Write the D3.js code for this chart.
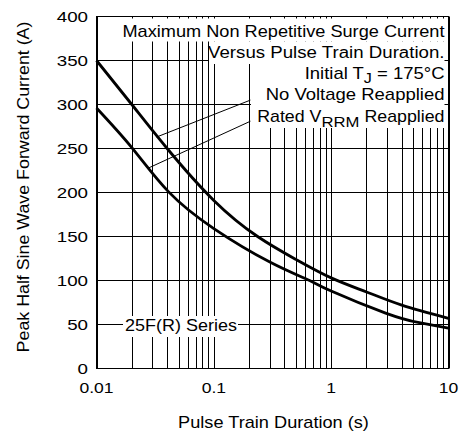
<!DOCTYPE html>
<html>
<head>
<meta charset="utf-8">
<script src="https://cdn.jsdelivr.net/npm/d3@7"></script>
<style>
  html, body { margin: 0; padding: 0; background: #fff; }
  svg { display: block; }
  text { font-family: "Liberation Sans", Arial, sans-serif; fill: #000; }
</style>
</head>
<body>
<svg id="chart" width="464" height="432"></svg>
<script>
// ---------------- data ----------------
const noVoltageT = [0.01, 0.02, 0.04, 0.1, 0.236, 0.5, 1, 2, 4, 10];
const noVoltageI = [350, 300, 250, 191, 150, 124, 103, 87, 72, 57];
const ratedT     = [0.01, 0.02, 0.041, 0.1, 0.3, 0.655, 1, 2.91, 5.64, 10];
const ratedI     = [296, 251, 201, 159, 121, 100, 88, 63, 52, 46];
const xTickValues = [0.01, 0.1, 1, 10];
const xTickLabels = ["0.01", "0.1", "1", "10"];
const yTickValues = [0, 50, 100, 150, 200, 250, 300, 350, 400];
const yTickLabels = ["0", "50", "100", "150", "200", "250", "300", "350", "400"];
// leader annotations: [curve point t, curve point I, label point t, label point I]
const leaderNoVolt = [0.0325, 263, 0.205, 305];
const leaderRated  = [0.0279, 228, 0.205, 281];

// ---------------- layout ----------------
const svg = d3.select("#chart");
const x = d3.scaleLog().domain([0.01, 10]).range([96.5, 448.5]);
const y = d3.scaleLinear().domain([0, 400]).range([368.5, 16.5]);

// grid
const grid = svg.append("g").attr("stroke", "#000").attr("stroke-width", 1);
grid.selectAll("line.v").data(x.ticks()).enter().append("line")
  .attr("x1", d => Math.round(x(d)) + 0.5).attr("x2", d => Math.round(x(d)) + 0.5)
  .attr("y1", y(400)).attr("y2", y(0));
grid.selectAll("line.h").data(yTickValues).enter().append("line")
  .attr("x1", x(0.01)).attr("x2", x(10))
  .attr("y1", d => y(d)).attr("y2", d => y(d));
// frame
svg.append("rect").attr("x", x(0.01)).attr("y", y(400))
  .attr("width", x(10) - x(0.01)).attr("height", y(0) - y(400))
  .attr("fill", "none").attr("stroke", "#000").attr("stroke-width", 1);

// leaders
[leaderNoVolt, leaderRated].forEach(l => {
  svg.append("line")
    .attr("x1", x(l[0])).attr("y1", y(l[1]))
    .attr("x2", x(l[2])).attr("y2", y(l[3]))
    .attr("stroke", "#000").attr("stroke-width", 1);
});

// white label backgrounds
const boxes = [
  [119, 18.5, 444.5, 41.5],
  [209, 41.5, 444.5, 64],
  [251, 64, 444.5, 128],
  [123, 316, 238, 337]
];
svg.selectAll("rect.bg").data(boxes).enter().append("rect")
  .attr("x", d => d[0]).attr("y", d => d[1])
  .attr("width", d => d[2] - d[0]).attr("height", d => d[3] - d[1])
  .attr("fill", "#fff");

// curves
const line = d3.line().x(d => x(d[0])).y(d => y(d[1])).curve(d3.curveNatural);
svg.append("path").datum(noVoltageT.map((t, i) => [t, noVoltageI[i]]))
  .attr("d", line).attr("fill", "none").attr("stroke", "#000").attr("stroke-width", 2.8);
svg.append("path").datum(ratedT.map((t, i) => [t, ratedI[i]]))
  .attr("d", line).attr("fill", "none").attr("stroke", "#000").attr("stroke-width", 2.8);

// text helper
function label(parts, px, py, anchor, size, targetW, rotate) {
  const g = svg.append("g").attr("transform", `translate(${px},${py})` + (rotate ? ` rotate(${rotate})` : ""));
  const t = g.append("text").attr("text-anchor", anchor).attr("font-size", size);
  parts.forEach(p => {
    if (typeof p === "string") t.append("tspan").text(p);
    else t.append("tspan").attr("dy", p.dy).attr("font-size", p.size || null).text(p.t);
  });
  if (targetW) {
    const w = t.node().getBBox().width;
    t.attr("transform", `scale(${targetW / w},1)`);
  }
  return t;
}

// tick labels
xTickValues.forEach((v, i) => {
  const t = label([xTickLabels[i]], x(v), 392.5, "middle", 15);
  t.attr("transform", "scale(1.17,1)");
});
yTickValues.forEach((v, i) => {
  const t = label([yTickLabels[i]], 88, y(v) + 5.3, "end", 15);
  t.attr("transform", "scale(1.25,1)");
});

// annotations
label(["Maximum Non Repetitive Surge Current"], 444.5, 37, "end", 16, 323);
label(["Versus Pulse Train Duration."], 444.5, 58.3, "end", 16, 236.5);
label(["Initial T", {t: "J", dy: 4, size: 14}, {t: " = 175°C", dy: -4}], 444.5, 79, "end", 16, 140);
label(["No Voltage Reapplied"], 444.5, 100.3, "end", 16, 179);
label(["Rated V", {t: "RRM", dy: 5, size: 15}, {t: " Reapplied", dy: -5}], 444.5, 121.6, "end", 16, 187.5);
label(["25F(R) Series"], 125, 331, "start", 16, 112);

// axis titles
label(["Pulse Train Duration (s)"], 273.5, 428, "middle", 16, 191);
label(["Peak Half Sine Wave Forward Current (A)"], 29, 187, "middle", 16, 331, -90);
</script>
</body>
</html>
